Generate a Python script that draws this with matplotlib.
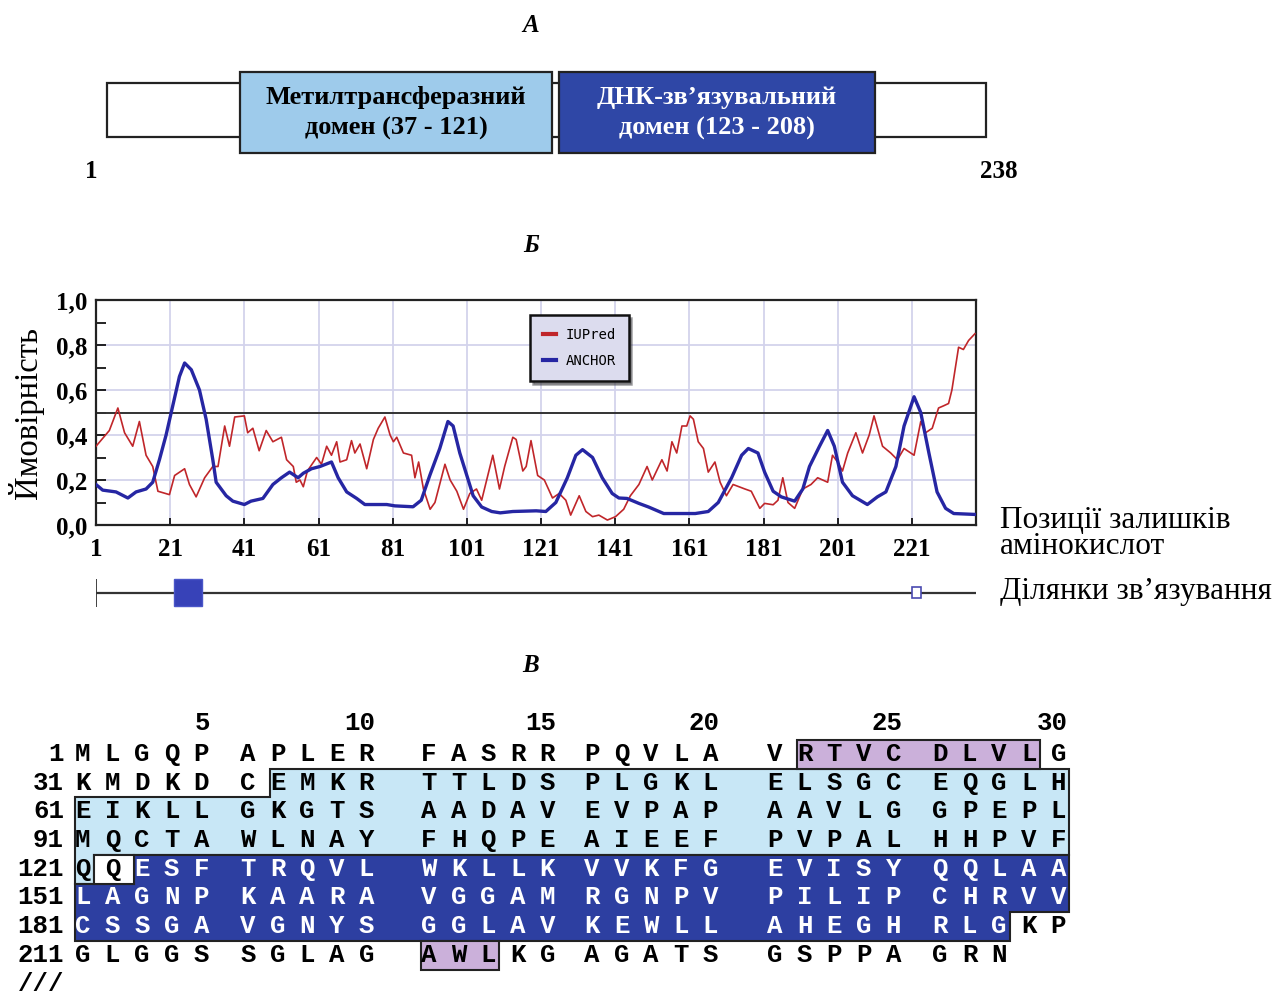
import numpy as np
import matplotlib
matplotlib.use("Agg")
import matplotlib.pyplot as plt
from matplotlib.patches import Rectangle, Polygon
from matplotlib.lines import Line2D
import matplotlib.transforms as mtransforms

# ---------------- data ----------------
protein_length = 238
domain_names = ["Метилтрансферазний\nдомен (37 - 121)", "ДНК-зв’язувальний\nдомен (123 - 208)"]
domain_starts = [37, 123]
domain_ends = [121, 208]

iupred_pos = [1, 4.6, 6.9, 8.7, 10.9, 12.7, 14.5, 16.3, 17.7, 20.8, 22.2, 24.9, 26.2, 28, 30.3,
              32.5, 33.9, 35.7, 37, 38.4, 41, 41.9, 43.3, 45, 46.9, 48.7, 51, 52.4, 54.2, 55,
              56, 56.9, 58, 60.5, 61.8, 63.2, 64.5, 65.9, 66.8, 68.6, 69.9, 70.8, 72.2, 74,
              75.8, 77.1, 78.9, 80.3, 81.2, 82.1, 83.9, 86.1, 87, 88, 89.3, 91.1, 92.4, 95.1,
              96.5, 98.3, 100.1, 101.8, 103.6, 105, 108, 109.8, 111.2, 113.4, 114.3, 116.1,
              117, 118.3, 120.1, 121.9, 124.1, 125.9, 127.7, 129, 131.3, 133.1, 134.9, 136.6,
              138.9, 141.1, 143.3, 145.1, 147.4, 149.6, 151, 153.6, 155, 156.3, 157.6, 159,
              160.3, 161.2, 162.1, 163.4, 164.8, 166.1, 167.9, 169.3, 171, 172.8, 176, 177.7,
              180, 181.3, 183.6, 184.9, 186.2, 187.6, 189.4, 191.6, 193.8, 195.6, 198.3, 199.6,
              201, 202.3, 203.7, 205.9, 207.7, 209.5, 210.8, 213.1, 215.3, 217.1, 218.9, 221.6,
              223.4, 224.7, 226.5, 228.2, 229.6, 230.9, 231.8, 233.6, 234.9, 236.3, 238]
iupred_val = [0.35, 0.42, 0.52, 0.41, 0.35, 0.46, 0.31, 0.26, 0.15, 0.135, 0.22, 0.25, 0.18, 0.125, 0.21,
              0.26, 0.26, 0.44, 0.35, 0.48, 0.485, 0.41, 0.43, 0.33, 0.42, 0.37, 0.39, 0.29, 0.26, 0.19,
              0.20, 0.17, 0.24, 0.30, 0.27, 0.35, 0.31, 0.37, 0.28, 0.29, 0.375, 0.32, 0.36, 0.25,
              0.38, 0.43, 0.48, 0.40, 0.37, 0.39, 0.32, 0.31, 0.21, 0.28, 0.16, 0.07, 0.10, 0.27,
              0.20, 0.15, 0.07, 0.14, 0.16, 0.11, 0.31, 0.16, 0.26, 0.39, 0.38, 0.24,
              0.26, 0.375, 0.22, 0.20, 0.12, 0.14, 0.11, 0.044, 0.13, 0.06, 0.037, 0.044,
              0.022, 0.037, 0.07, 0.13, 0.18, 0.26, 0.20, 0.29, 0.24, 0.37, 0.32, 0.44,
              0.44, 0.485, 0.47, 0.37, 0.34, 0.235, 0.28, 0.19, 0.13, 0.18, 0.16, 0.15,
              0.074, 0.096, 0.09, 0.11, 0.21, 0.10, 0.074, 0.16, 0.18, 0.21, 0.19, 0.31,
              0.28, 0.24, 0.32, 0.41, 0.32, 0.40, 0.485, 0.35, 0.32, 0.29, 0.34, 0.31,
              0.46, 0.41, 0.43, 0.52, 0.53, 0.54, 0.60, 0.79, 0.78, 0.82, 0.85]

anchor_pos = [1, 2.8, 6.4, 9.6, 11.8, 14.5, 16.3, 18.1, 19.9, 21.7, 23.5, 24.9, 26.7, 28.9, 30.7,
              32.5, 33.4, 36.1, 37.9, 41, 42.8, 46, 48.7, 51, 53.2, 55.5, 56.9, 59.1, 61.4, 64.5,
              66.3, 68.6, 71.3, 73.5, 79.4, 81.6, 86.5, 88.7, 91, 93.7, 95.9, 97.3, 99.1, 101,
              102.7, 105, 107.7, 110, 113.4, 119.7, 122.3, 125, 128.1, 130.4, 132.2, 134.9,
              137.5, 140.2, 142, 144.2, 147.4, 150, 154.1, 162.6, 166.1, 168.8, 172.4, 175.1,
              176.9, 179.5, 181.3, 183.6, 185.8, 189.4, 191.6, 193.4, 196.1, 198.3, 200.1,
              202.3, 205, 209, 211.7, 214, 216.7, 218.9, 221.6, 223.4, 225.6, 227.8, 230.1,
              232.3, 238]
anchor_val = [0.18, 0.155, 0.147, 0.12, 0.147, 0.16, 0.19, 0.29, 0.40, 0.53, 0.66, 0.72, 0.69, 0.60, 0.47,
              0.29, 0.19, 0.13, 0.106, 0.091, 0.106, 0.118, 0.18, 0.21, 0.235, 0.21, 0.23, 0.25, 0.26, 0.28,
              0.21, 0.147, 0.118, 0.091, 0.091, 0.085, 0.081, 0.11, 0.22, 0.34, 0.46, 0.44, 0.32, 0.22,
              0.13, 0.08, 0.06, 0.054, 0.06, 0.063, 0.06, 0.10, 0.21, 0.31, 0.335, 0.30,
              0.21, 0.14, 0.12, 0.118, 0.096, 0.08, 0.051, 0.051, 0.06, 0.10, 0.21, 0.31,
              0.34, 0.32, 0.235, 0.15, 0.125, 0.106, 0.16, 0.26, 0.35, 0.42, 0.35,
              0.19, 0.13, 0.091, 0.125, 0.147, 0.26, 0.44, 0.57, 0.50, 0.32, 0.147, 0.074,
              0.051, 0.047]

x_ticks = [1, 21, 41, 61, 81, 101, 121, 141, 161, 181, 201, 221]
y_ticks = [0.0, 0.2, 0.4, 0.6, 0.8, 1.0]
y_ticklabels = ["0,0", "0,2", "0,4", "0,6", "0,8", "1,0"]
threshold = 0.5
binding_starts = [22, 221]
binding_ends = [29, 223]

sequence_rows = ["MLGQPAPLERFASRRPQVLAVRTVCDLVLG",
                 "KMDKDCEMKRTTLDSPLGKLELSGCEQGLH",
                 "EIKLLGKGTSAADAVEVPAPAAVLGGPEPL",
                 "MQCTAWLNAYFHQPEAIEEFPVPALHHPVF",
                 "QQESFTRQVLWKLLKVVKFGEVISYQQLAA",
                 "LAGNPKAARAVGGAMRGNPVPILIPCHRVV",
                 "CSSGAVGNYSGGLAVKEWLLAHEGHRLGKP",
                 "GLGGSSGLAGAWLKGAGATSGSPPAGRN"]
row_starts = [1, 31, 61, 91, 121, 151, 181, 211]
header_numbers = [5, 10, 15, 20, 25, 30]

# ---------------- style / layout ----------------
W, H = 1282, 994
SERIF = "Liberation Serif"
MONO = "Liberation Mono"
LIGHT = "#9ecbeb"
DARK = "#2f47a6"
SEQ_LIGHT = "#c8e7f6"
SEQ_DARK = "#2d3fa1"
PURPLE = "#cbb0da"
RED = "#c0262a"
BLUE = "#2626a3"
GRID = "#d3d3ec"
SEQ_FS = 18.5

fig = plt.figure(figsize=(W / 100, H / 100), dpi=100)


def frac(l, t, r, b):
    return [l / W, 1 - b / H, (r - l) / W, (b - t) / H]


for lbl, yy in [("А", 26), ("Б", 246), ("В", 665)]:
    fig.text(531 / W, 1 - yy / H, lbl, ha="center", va="center", fontsize=18,
             fontweight="bold", fontstyle="italic", family=SERIF)

# ---------------- panel A ----------------
axA = fig.add_axes(frac(96, 60, 990, 190))
axA.set_axis_off()
axA.set_xlim((96 - 103.3) / 3.708, (990 - 103.3) / 3.708)
axA.set_ylim(190, 60)
axA.add_patch(Rectangle((1, 83), protein_length - 1, 54, fc="white", ec="#222222", lw=1.6))
for name, s, e, fc, tc in zip(domain_names, domain_starts, domain_ends, [LIGHT, DARK], ["black", "white"]):
    axA.add_patch(Rectangle((s, 72), e - s, 81, fc=fc, ec="#222222", lw=1.6, zorder=3))
    axA.text((s + e) / 2, 113, name, ha="center", va="center", fontsize=19, fontweight="bold",
             family=SERIF, color=tc, linespacing=1.38, zorder=4)
axA.text(1, 172, "1", ha="center", va="center", fontsize=18, fontweight="bold", family=SERIF,
         transform=mtransforms.offset_copy(axA.transData, fig=fig, x=-16, y=0, units="dots"))
axA.text(protein_length, 172, str(protein_length), ha="center", va="center", fontsize=18,
         fontweight="bold", family=SERIF,
         transform=mtransforms.offset_copy(axA.transData, fig=fig, x=13, y=0, units="dots"))

# ---------------- panel B ----------------
axB = fig.add_axes(frac(96, 300, 976, 525))
axB.set_xlim(1, 238.3)
axB.set_ylim(0, 1)
axB.set_axisbelow(True)
for xv in x_ticks[1:]:
    axB.axvline(xv, color=GRID, lw=1.3, zorder=0)
for yv in y_ticks[1:-1]:
    axB.axhline(yv, color=GRID, lw=1.3, zorder=0)
axB.axhline(threshold, color="#333333", lw=1.4, zorder=1)
axB.plot(iupred_pos, iupred_val, color=RED, lw=1.2, zorder=3)
axB.plot(anchor_pos, anchor_val, color=BLUE, lw=2.4, zorder=4)
axB.set_xticks(x_ticks)
axB.set_xticklabels([str(v) for v in x_ticks], fontsize=18, fontweight="bold", family=SERIF)
axB.set_yticks(y_ticks)
axB.set_yticklabels(y_ticklabels, fontsize=18, fontweight="bold", family=SERIF)
axB.set_yticks(np.arange(0.1, 1.0, 0.2), minor=True)
axB.tick_params(axis="x", direction="in", length=5, width=1.2, pad=9)
axB.tick_params(axis="y", which="both", direction="in", length=7, width=1.2, pad=6)
for sp in axB.spines.values():
    sp.set_linewidth(1.6)
    sp.set_color("#222222")
handles = [Line2D([], [], color=RED, lw=3), Line2D([], [], color=BLUE, lw=3)]
leg = axB.legend(handles, ["IUPred", "ANCHOR"], loc="upper left", bbox_to_anchor=(0.493, 0.933),
                 borderaxespad=0, frameon=True, fancybox=False, shadow=True,
                 prop={"family": "DejaVu Sans Mono", "size": 10}, handlelength=0.9,
                 handletextpad=0.7, labelspacing=0.85, borderpad=0.95)
leg.get_frame().set_facecolor("#dcdcee")
leg.get_frame().set_edgecolor("#111111")
leg.get_frame().set_linewidth(1.8)
leg.get_frame().set_alpha(1)

fig.text(26 / W, 1 - 413 / H, "Ймовірність", rotation=90, ha="center", va="center",
         fontsize=23.5, family=SERIF)
fig.text(1000 / W, 1 - 520 / H, "Позиції залишків", ha="left", va="center", fontsize=22.5, family=SERIF)
fig.text(1000 / W, 1 - 547 / H, "амінокислот", ha="left", va="center", fontsize=22.5, family=SERIF)
fig.text(1000 / W, 1 - 592 / H, "Ділянки зв’язування", ha="left", va="center", fontsize=22.5, family=SERIF)

# binding track
axT = fig.add_axes(frac(96, 575, 976, 612))
axT.set_xlim(1, 238.3)
axT.set_ylim(0, 1)
axT.set_axis_off()
axT.plot([1, protein_length + 0.5], [0.51, 0.51], color="#333333", lw=1.6)
axT.vlines([1, protein_length + 0.5], 0.14, 0.88, color="#333333", lw=1.3)
for i, (s, e) in enumerate(zip(binding_starts, binding_ends)):
    if i == 0:
        axT.add_patch(Rectangle((s, 0.16), e + 0.5 - s, 0.72, fc="#3742b8", ec="#4a56c8", lw=1, zorder=3))
    else:
        axT.add_patch(Rectangle((s, 0.38), e + 0.5 - s, 0.30, fc="white", ec="#4a4ab0", lw=1.2, zorder=3))

# ---------------- panel C ----------------
axC = fig.add_axes([0, 0, 1, 1])
axC.set_xlim(0, W)
axC.set_ylim(H, 0)
axC.set_axis_off()
axC.patch.set_visible(False)

group_x0 = [83, 248, 429, 592, 775, 940]
pitch = 29.6
row_y0 = 754
row_pitch = 28.7
CL, CR = -8, 11


def col_x(c):
    return group_x0[c // 5] + (c % 5) * pitch


def row_y(r):
    return row_y0 + r * row_pitch


def yb(r):
    return row_y0 - 14 + r * row_pitch


def L(c):
    return col_x(c) + CL


def R(c):
    return col_x(c) + CR


def span_polygon(start, end):
    r0, c0 = divmod(start - 1, 30)
    r1, c1 = divmod(end - 1, 30)
    if r0 == r1:
        return [(L(c0), yb(r0)), (R(c1), yb(r0)), (R(c1), yb(r0 + 1)), (L(c0), yb(r0 + 1))]
    return [(L(c0), yb(r0)), (R(29), yb(r0)), (R(29), yb(r1)), (R(c1), yb(r1)),
            (R(c1), yb(r1 + 1)), (L(0), yb(r1 + 1)), (L(0), yb(r0 + 1)), (L(c0), yb(r0 + 1))]


for s, e, fc in zip(domain_starts, domain_ends, [SEQ_LIGHT, SEQ_DARK]):
    axC.add_patch(Polygon(span_polygon(s, e), closed=True, fc=fc, ec="#222222", lw=1.5, zorder=1))
# linker residue between domains
lr, lc = divmod(domain_ends[0], 30)
axC.add_patch(Rectangle((R(lc - 1), yb(lr)), L(lc + 1) - R(lc - 1), row_pitch,
                        fc="white", ec="#222222", lw=1.5, zorder=1))
for s, e in zip(binding_starts, binding_ends):
    axC.add_patch(Polygon(span_polygon(s, e), closed=True, fc=PURPLE, ec="#222222", lw=1.5, zorder=1))

for r, (start, row) in enumerate(zip(row_starts, sequence_rows)):
    axC.text(64, row_y(r), str(start), ha="right", va="center", family=MONO, fontweight="bold", fontsize=SEQ_FS)
    for c, ch in enumerate(row):
        resid = start + c
        color = "white" if domain_starts[1] <= resid <= domain_ends[1] else "black"
        axC.text(col_x(c), row_y(r), ch, ha="center", va="center", family=MONO, fontweight="bold",
                 fontsize=SEQ_FS, color=color, zorder=3)
for n in header_numbers:
    axC.text(col_x(n - 1) + 9, 723, str(n), ha="right", va="center", family=MONO, fontweight="bold", fontsize=SEQ_FS)
axC.text(18, 984, "///", ha="left", va="center", family=MONO, fontweight="bold", fontsize=SEQ_FS)

fig.savefig("out.png", dpi=100)
